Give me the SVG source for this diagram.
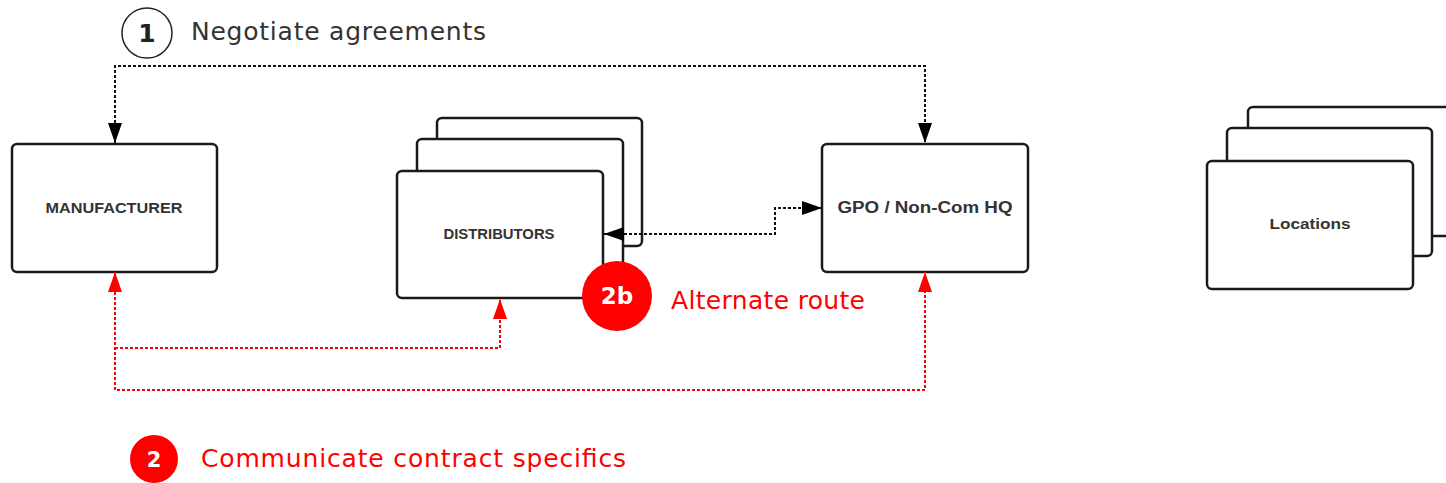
<svg xmlns="http://www.w3.org/2000/svg" width="1446" height="483" viewBox="0 0 1446 483">
<style>
.box{fill:#fff;stroke:#1a1a1a;stroke-width:2.5}
.lbl{font-family:"Liberation Sans","DejaVu Sans",sans-serif;font-weight:bold;font-size:15px;fill:#333;text-anchor:middle}
.big{font-family:"DejaVu Sans","Liberation Sans",sans-serif;font-size:25px}
.blk{fill:none;stroke:#111;stroke-width:2;stroke-dasharray:3 2}
.red{fill:none;stroke:#f00;stroke-width:2;stroke-dasharray:3 2}
</style>
<defs>
<marker id="ab" viewBox="0 0 20 14" refX="20" refY="7" markerWidth="20" markerHeight="14" markerUnits="userSpaceOnUse" orient="auto-start-reverse"><path d="M0,0 L20,7 L0,14 z" fill="#000"/></marker>
<marker id="ar" viewBox="0 0 20 14" refX="20" refY="7" markerWidth="20" markerHeight="14" markerUnits="userSpaceOnUse" orient="auto-start-reverse"><path d="M0,0 L20,7 L0,14 z" fill="#f00"/></marker>
</defs>
<rect width="1446" height="483" fill="#fff"/>
<g id="step1">
<circle cx="147" cy="33" r="25" fill="#fff" stroke="#222" stroke-width="1.5"/>
<text x="147" y="42" font-family="DejaVu Sans,sans-serif" font-weight="bold" font-size="25" fill="#222" text-anchor="middle">1</text>
<text class="big" x="191" y="40" fill="#333" textLength="295" lengthAdjust="spacing">Negotiate agreements</text>
</g>
<g id="manufacturer">
<rect class="box" x="12" y="144" width="205" height="128" rx="5"/>
<text class="lbl" x="114" y="213" textLength="137" lengthAdjust="spacingAndGlyphs">MANUFACTURER</text>
</g>
<g id="distributors">
<rect class="box" x="437" y="118" width="205" height="128" rx="5"/>
<rect class="box" x="417" y="139" width="206" height="128" rx="5"/>
<rect class="box" x="397" y="171" width="206" height="127" rx="5"/>
<text class="lbl" x="499" y="239" textLength="111" lengthAdjust="spacingAndGlyphs">DISTRIBUTORS</text>
</g>
<g id="gpo">
<rect class="box" x="822" y="144" width="206" height="128" rx="5"/>
<text class="lbl" x="925" y="213" textLength="175" lengthAdjust="spacingAndGlyphs" style="font-size:16px">GPO / Non-Com HQ</text>
</g>
<g id="locations">
<rect class="box" x="1248" y="107" width="210" height="129" rx="5"/>
<rect class="box" x="1227" y="128" width="205" height="128" rx="5"/>
<rect class="box" x="1207" y="161" width="206" height="128" rx="5"/>
<text class="lbl" x="1310" y="229" textLength="81" lengthAdjust="spacingAndGlyphs">Locations</text>
</g>
<g id="connectors">
<path class="blk" d="M115,143 V66 H925 V143" marker-start="url(#ab)" marker-end="url(#ab)"/>
<path class="blk" d="M604,234 H775 V208 H822" marker-start="url(#ab)" marker-end="url(#ab)"/>
<path class="red" d="M115,272 V390 H925 V272" marker-start="url(#ar)" marker-end="url(#ar)"/>
<path class="red" d="M115,348 H500 V299" marker-end="url(#ar)"/>
</g>
<g id="step2b">
<circle cx="617" cy="296" r="35" fill="#f00"/>
<text x="617" y="304" font-family="DejaVu Sans,sans-serif" font-weight="bold" font-size="23" fill="#fff" text-anchor="middle">2b</text>
<text class="big" x="671" y="309" fill="#f00" textLength="194" lengthAdjust="spacing">Alternate route</text>
</g>
<g id="step2">
<circle cx="154" cy="459" r="24" fill="#f00"/>
<text x="154" y="467" font-family="DejaVu Sans,sans-serif" font-weight="bold" font-size="21" fill="#fff" text-anchor="middle">2</text>
<text class="big" x="201" y="467" fill="#f00" textLength="425" lengthAdjust="spacing">Communicate contract specifics</text>
</g>
</svg>
